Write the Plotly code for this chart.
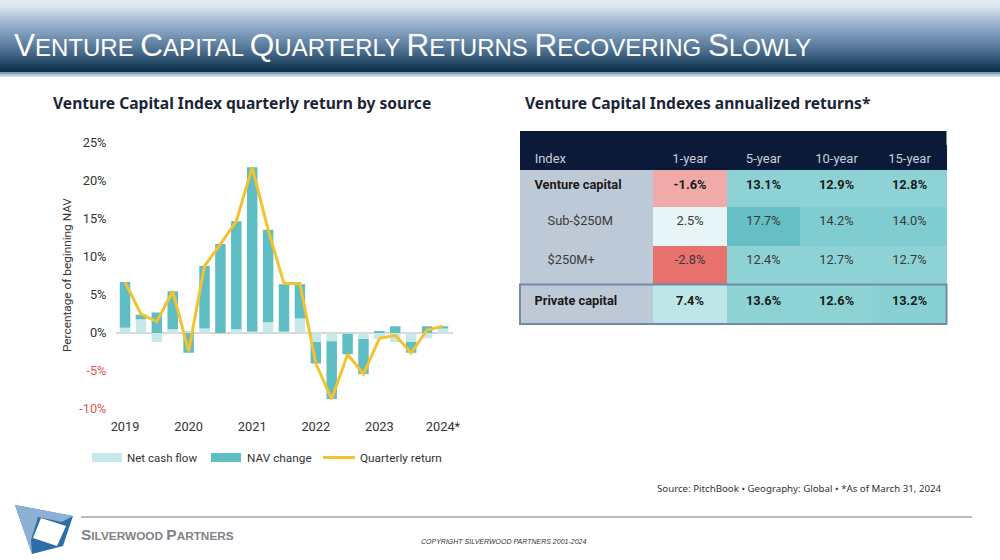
import plotly.graph_objects as go

# ---------------- data ----------------
quarters = ["2019Q1","2019Q2","2019Q3","2019Q4","2020Q1","2020Q2","2020Q3","2020Q4",
            "2021Q1","2021Q2","2021Q3","2021Q4","2022Q1","2022Q2","2022Q3","2022Q4",
            "2023Q1","2023Q2","2023Q3","2023Q4","2024Q1"]
net_cash_flow = [0.7, 1.8, -1.2, 0.5, 0.3, 0.6, 0.0, 0.5,
                 0.2, 1.4, 0.2, 1.9, -1.2, -1.1, -0.1, -0.8,
                 -0.8, -1.2, -1.2, -0.7, 0.6]
nav_change = [6.0, 0.6, 2.7, 5.0, -2.6, 8.2, 11.7, 14.2,
              21.6, 12.2, 6.2, 4.5, -2.8, -7.6, -2.7, -4.6,
              0.2, 0.9, -1.4, 0.9, 0.3]
quarterly_return = [6.7, 2.5, 1.5, 5.5, -2.4, 8.8, 11.7, 14.7,
                    21.8, 13.6, 6.5, 6.5, -4.0, -8.7, -2.8, -5.4,
                    -0.7, -0.3, -2.6, 0.4, 0.9]
year_ticks = ["2019","2020","2021","2022","2023","2024*"]
y_ticks = [25, 20, 15, 10, 5, 0, -5, -10]

table_header = ["Index", "1-year", "5-year", "10-year", "15-year"]
table_index = ["Venture capital", "Sub-$250M", "$250M+", "Private capital"]
one_year = ["-1.6%", "2.5%", "-2.8%", "7.4%"]
five_year = ["13.1%", "17.7%", "12.4%", "13.6%"]
ten_year = ["12.9%", "14.2%", "12.7%", "12.6%"]
fifteen_year = ["12.8%", "14.0%", "12.7%", "13.2%"]
row_bold = [True, False, False, True]
row_indent = [False, True, True, False]

# ---------------- styling ----------------
W, H = 1000, 560
def px(x): return x / W
def py(y): return 1 - y / H

FONT = "Roboto, sans-serif"
C_LIGHT = "#C6E8E9"
C_DARK = "#5FBDC4"
C_LINE = "#F2C230"
NAVY = "#0B1A38"

fig = go.Figure()
xi = list(range(len(quarters)))

fig.add_trace(go.Bar(x=xi, y=net_cash_flow, name="Net cash flow", marker_color=C_LIGHT,
                     marker_line_width=0, width=0.66, showlegend=False))
fig.add_trace(go.Bar(x=xi, y=nav_change, name="NAV change", marker_color=C_DARK,
                     marker_line_width=0, width=0.66, showlegend=False))
fig.add_trace(go.Scatter(x=xi, y=quarterly_return, mode="lines", name="Quarterly return",
                         line=dict(color=C_LINE, width=3), showlegend=False))

def ytxt(v):
    s = f"{v}%"
    if v < 0:
        return f"<span style='color:#E5574F'>{s}</span>"
    return s

# ---------------- table ----------------
def lab(i):
    t = table_index[i]
    t = ("\u2002\u2002\u2002" if row_indent[i] else "\u2002") + t
    return f"<b>{t}</b>" if row_bold[i] else t

def val(col, i):
    return f"<b>{col[i]}</b>" if row_bold[i] else col[i]

cols = [one_year, five_year, ten_year, fifteen_year]
cell_values = [[lab(i) for i in range(4)]] + [[val(c, i) for i in range(4)] for c in cols]

fills = [
    ["#BEC9D7"] * 4,
    ["#EFAAA9", "#E7F5F6", "#E8716E", "#BEE6E8"],
    ["#8DD3D6", "#66BFC5", "#8DD3D6", "#8DD3D6"],
    ["#8DD3D6", "#80CDD1", "#8DD3D6", "#8DD3D6"],
    ["#8DD3D6", "#80CDD1", "#8DD3D6", "#87D1D5"],
]
fcol = [["#1A1A1A" if row_bold[i] else "#3A3A3A" for i in range(4)] for _ in range(5)]

fig.add_trace(go.Table(
    domain=dict(x=[px(520), px(946.5)], y=[py(325), py(145)]),
    columnwidth=[133, 74, 73, 73, 73],
    header=dict(values=["\u2002" + h if k == 0 else h for k, h in enumerate(table_header)],
                fill_color=NAVY, line_color=NAVY,
                font=dict(family=FONT, size=13, color="#C9CED8"),
                align=["left", "center", "center", "center", "center"], height=24),
    cells=dict(values=cell_values, fill_color=fills, line=dict(color=fills, width=1),
               font=dict(family=FONT, size=12.8, color=fcol),
               align=["left", "center", "center", "center", "center"], height=38.5),
))

shapes = []
# title band gradient
stops = [(0, (230, 236, 244)), (8, (215, 226, 238)), (18, (172, 194, 218)), (33, (127, 157, 187)),
         (50, (79, 114, 146)), (64, (33, 70, 98)), (71, (18, 48, 73))]
def col_at(y):
    for (y0, c0), (y1, c1) in zip(stops[:-1], stops[1:]):
        if y0 <= y <= y1:
            t = (y - y0) / (y1 - y0)
            return "rgb(%d,%d,%d)" % tuple(int(c0[k] + (c1[k] - c0[k]) * t) for k in range(3))
    return "rgb(%d,%d,%d)" % stops[-1][1]
for y in range(0, 72, 2):
    shapes.append(dict(type="rect", xref="paper", yref="paper", x0=0, x1=1, y0=py(y + 2.2), y1=py(y),
                       fillcolor=col_at(y + 1), line_width=0, layer="below"))
shapes.append(dict(type="rect", xref="paper", yref="paper", x0=0, x1=1, y0=py(74), y1=py(72),
                   fillcolor="#7E9CBC", line_width=0, layer="below"))
shapes.append(dict(type="rect", xref="paper", yref="paper", x0=0, x1=1, y0=py(76.5), y1=py(74),
                   fillcolor="#B8C9DA", line_width=0, layer="below"))

# table header top extension
shapes.append(dict(type="rect", xref="paper", yref="paper", x0=px(520), x1=px(946.5), y0=py(145.5), y1=py(131),
                   fillcolor=NAVY, line_width=0))
# private capital outline
shapes.append(dict(type="rect", xref="paper", yref="paper", x0=px(520), x1=px(946.5), y0=py(324), y1=py(284.5),
                   line=dict(color="#7489A6", width=2), fillcolor="rgba(0,0,0,0)"))

# legend swatches
shapes.append(dict(type="rect", xref="paper", yref="paper", x0=px(92), x1=px(122), y0=py(462), y1=py(453),
                   fillcolor=C_LIGHT, line_width=0))
shapes.append(dict(type="rect", xref="paper", yref="paper", x0=px(211), x1=px(241), y0=py(462), y1=py(453),
                   fillcolor=C_DARK, line_width=0))
shapes.append(dict(type="line", xref="paper", yref="paper", x0=px(323), x1=px(355), y0=py(457.5), y1=py(457.5),
                   line=dict(color=C_LINE, width=3)))

# footer line
shapes.append(dict(type="line", xref="paper", yref="paper", x0=px(81), x1=px(972), y0=py(517), y1=py(517),
                   line=dict(color="#A0A4A8", width=1.5)))

# logo
def path(pts):
    return "M " + " L ".join(f"{px(x)},{py(y)}" for x, y in pts) + " Z"
shapes.append(dict(type="path", xref="paper", yref="paper", path=path([(15, 505), (73, 516), (63, 546), (32, 554)]),
                   fillcolor="#2E6EA6", line_width=0))
shapes.append(dict(type="path", xref="paper", yref="paper", path=path([(15, 505), (73, 516), (62, 522), (38, 517), (31, 540), (32, 554)]),
                   fillcolor="#8DB0D6", line_width=0))
shapes.append(dict(type="path", xref="paper", yref="paper", path=path([(41, 518), (66, 526), (57, 546), (33, 538)]),
                   fillcolor="white", line_width=0))

ann = []
def title_sc(text, big):
    out = []
    for word in text.split(" "):
        out.append(f"<span style='font-size:{big}px'>{word[0]}</span>{word[1:].upper()}")
    return " ".join(out)

ann.append(dict(text=title_sc("Venture Capital Quarterly Returns Recovering Slowly", 31.5),
                x=px(12), y=py(65), xref="paper", yref="paper", xanchor="left", yanchor="bottom",
                showarrow=False, font=dict(family="Liberation Sans, sans-serif", size=24, color="white")))
ann.append(dict(text="<b>Venture Capital Index quarterly return by source</b>", x=px(51), y=py(103),
                xref="paper", yref="paper", xanchor="left", yanchor="middle", showarrow=False,
                font=dict(family="Noto Sans, sans-serif", size=15.6, color="#1C2536")))
ann.append(dict(text="<b>Venture Capital Indexes annualized returns*</b>", x=px(523), y=py(103),
                xref="paper", yref="paper", xanchor="left", yanchor="middle", showarrow=False,
                font=dict(family="Noto Sans, sans-serif", size=15.6, color="#1C2536")))
ann.append(dict(text="Percentage of beginning NAV", x=px(67), y=py(275), xref="paper", yref="paper",
                textangle=-90, showarrow=False, xanchor="center", yanchor="middle",
                font=dict(family=FONT, size=11.8, color="#333333")))
for x0, t, fs in [(125, "Net cash flow", 11.5), (245, "NAV change", 11.8), (358, "Quarterly return", 11.8)]:
    ann.append(dict(text=t, x=px(x0), y=py(457.5), xref="paper", yref="paper", xanchor="left", yanchor="middle",
                    showarrow=False, font=dict(family=FONT, size=fs, color="#333333")))
ann.append(dict(text="Source: PitchBook \u2022 Geography: Global \u2022 *As of March 31, 2024", x=px(944), y=py(488),
                xref="paper", yref="paper", xanchor="right", yanchor="middle", showarrow=False,
                font=dict(family="Noto Sans, sans-serif", size=9.7, color="#333333")))
ann.append(dict(text="<b><span style='font-size:15.5px'>S</span>ILVERWOOD <span style='font-size:15.5px'>P</span>ARTNERS</b>",
                x=px(79), y=py(534), xref="paper", yref="paper", xanchor="left", yanchor="middle", showarrow=False,
                font=dict(family="Liberation Sans, sans-serif", size=11.8, color="#7E8388")))
ann.append(dict(text="<i>COPYRIGHT SILVERWOOD PARTNERS 2001-2024</i>", x=px(503), y=py(541), xref="paper", yref="paper",
                xanchor="center", yanchor="middle", showarrow=False,
                font=dict(family="Liberation Sans, sans-serif", size=7, color="#333333")))

fig.update_layout(
    width=W, height=H, margin=dict(l=0, r=0, t=0, b=0, autoexpand=False),
    paper_bgcolor="white", plot_bgcolor="white",
    barmode="relative", bargap=0.34,
    shapes=shapes, annotations=ann, showlegend=False,
    xaxis=dict(domain=[px(115.5), px(453.3)], range=[-0.6, 20.65], tickmode="array", automargin=False,
               tickvals=[0, 4, 8, 12, 16, 20], ticktext=year_ticks, showgrid=False, zeroline=False,
               showline=False, ticks="", ticklabelstandoff=8,
               tickfont=dict(family=FONT, size=12.8, color="#333333")),
    yaxis=dict(domain=[py(409), py(143)], range=[-10, 25], tickmode="array", tickvals=y_ticks, automargin=False,
               ticktext=[ytxt(v) for v in y_ticks], showgrid=False, zeroline=True,
               zerolinecolor="#D9D9D9", zerolinewidth=2, showline=False, ticks="",
               ticklabelstandoff=8, tickfont=dict(family=FONT, size=12.8, color="#333333")),
)

fig.write_html("out.html", config={"displayModeBar": False},
               post_script="document.body.style.margin='0px';")
